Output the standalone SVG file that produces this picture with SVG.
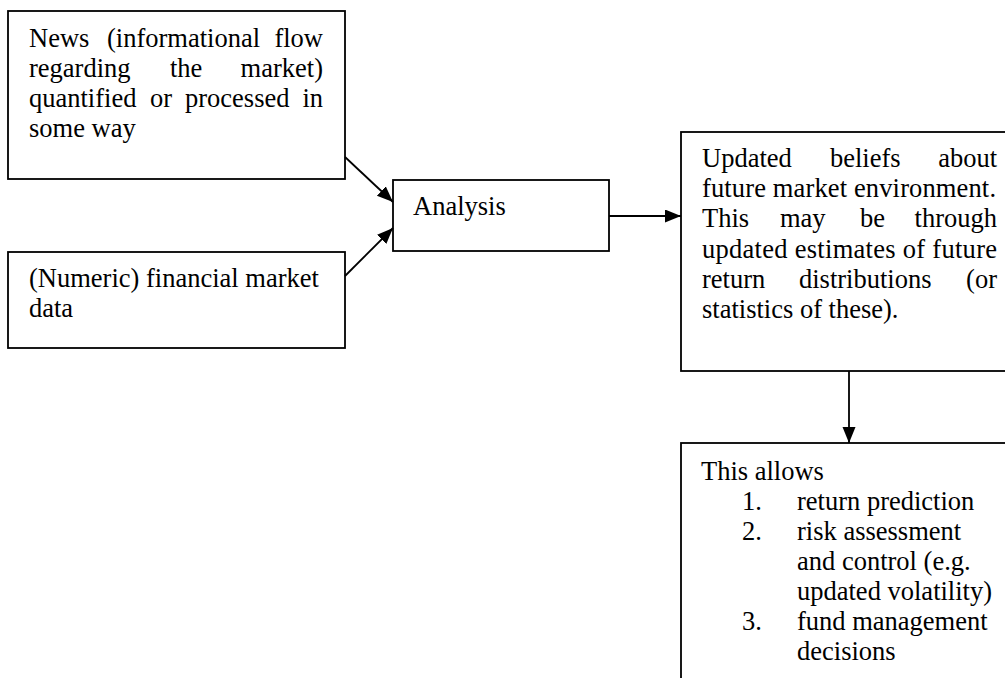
<svg xmlns="http://www.w3.org/2000/svg" width="1005" height="678" viewBox="0 0 1005 678">
<style>
.box{fill:#fff;stroke:#000;stroke-width:1.8}
.t{font-family:"Liberation Serif","Times New Roman",serif;font-size:26.5px;fill:#000}
.e{text-anchor:end}
.c{stroke:#000;stroke-width:1.8;fill:none}
</style>
<defs>
<marker id="ah" markerUnits="userSpaceOnUse" markerWidth="17" markerHeight="14" refX="16" refY="6.5" orient="auto">
<path d="M0,0 L16,6.5 L0,13 z" fill="#000"/>
</marker>
</defs>
<rect width="1005" height="678" fill="#fff"/>
<g id="news">
<rect class="box" x="8" y="11" width="337" height="168"/>
<text class="t" y="47"><tspan x="29">News</tspan><tspan x="107">(informational</tspan></text>
<text class="t e" x="323" y="47">flow</text>
<text class="t" y="77"><tspan x="29">regarding</tspan><tspan x="170">the</tspan></text>
<text class="t e" x="323" y="77">market)</text>
<text class="t" y="107"><tspan x="29">quantified</tspan><tspan x="150">or</tspan><tspan x="185">processed</tspan></text>
<text class="t e" x="323" y="107">in</text>
<text class="t" x="29" y="137">some way</text>
</g>
<g id="numeric">
<rect class="box" x="8" y="252" width="337" height="96"/>
<text class="t" x="29" y="287">(Numeric) financial market</text>
<text class="t" x="29" y="317">data</text>
</g>
<g id="analysis">
<rect class="box" x="393" y="180" width="216" height="71"/>
<text class="t" x="413" y="215">Analysis</text>
</g>
<g id="beliefs">
<rect class="box" x="681" y="132" width="340" height="239"/>
<text class="t" y="167"><tspan x="702">Updated</tspan><tspan x="830">beliefs</tspan></text>
<text class="t e" x="997" y="167">about</text>
<text class="t" x="702" y="197" textLength="294" lengthAdjust="spacing">future market environment.</text>
<text class="t" y="227"><tspan x="702">This</tspan><tspan x="780">may</tspan><tspan x="860">be</tspan></text>
<text class="t e" x="997" y="227">through</text>
<text class="t" x="702" y="258" textLength="295" lengthAdjust="spacing">updated estimates of future</text>
<text class="t" y="288"><tspan x="702">return</tspan><tspan x="799">distributions</tspan></text>
<text class="t e" x="997" y="288">(or</text>
<text class="t" x="702" y="318">statistics of these).</text>
</g>
<g id="allows">
<rect class="box" x="681" y="443" width="340" height="260"/>
<text class="t" x="701" y="480">This allows</text>
<text class="t" x="742" y="510">1.</text>
<text class="t" x="797" y="510">return prediction</text>
<text class="t" x="742" y="540">2.</text>
<text class="t" x="797" y="540">risk assessment</text>
<text class="t" x="797" y="570">and control (e.g.</text>
<text class="t" x="797" y="600">updated volatility)</text>
<text class="t" x="742" y="630">3.</text>
<text class="t" x="797" y="630">fund management</text>
<text class="t" x="797" y="660">decisions</text>
</g>
<g id="connectors">
<line class="c" x1="345" y1="157" x2="393" y2="202" marker-end="url(#ah)"/>
<line class="c" x1="345" y1="276" x2="393" y2="228" marker-end="url(#ah)"/>
<line class="c" x1="609" y1="216" x2="681" y2="216" marker-end="url(#ah)"/>
<line class="c" x1="849" y1="371" x2="849" y2="443" marker-end="url(#ah)"/>
</g>
</svg>
